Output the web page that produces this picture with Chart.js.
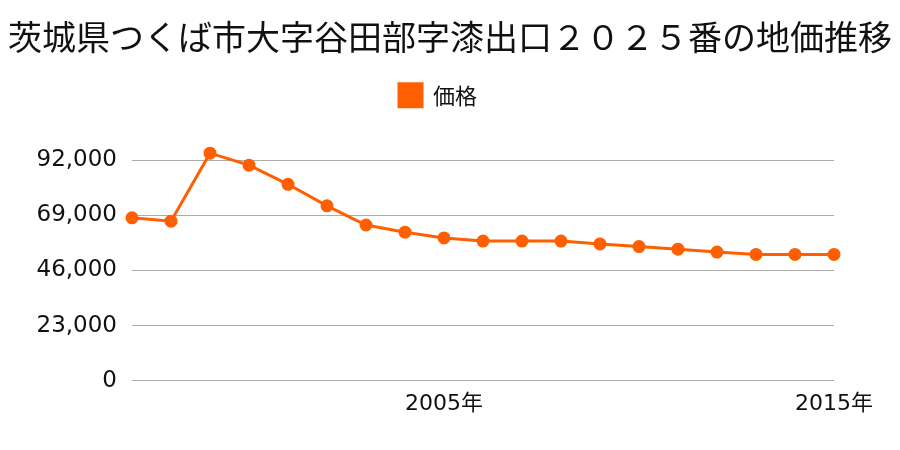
<!DOCTYPE html>
<html>
<head>
<meta charset="utf-8">
<script src="https://cdn.jsdelivr.net/npm/chart.js@4/dist/chart.umd.min.js"></script>
<style>
  html, body { margin: 0; padding: 0; background: #fff; }
</style>
</head>
<body>
<canvas id="chart" width="900" height="450"></canvas>
<script>
const years = ["1997", "1998", "1999", "2000", "2001", "2002", "2003", "2004", "2005", "2006",
               "2007", "2008", "2009", "2010", "2011", "2012", "2013", "2014", "2015"];
const prices = [68000, 66600, 95000, 90000, 82000, 73000, 65000, 62000, 59600, 58300,
                58300, 58300, 57100, 56000, 54900, 53700, 52700, 52700, 52700];
const yTicks = [0, 23000, 46000, 69000, 92000];
const shownYears = ["2005", "2015"];

const cjk = "'Noto Sans CJK JP', sans-serif";
const num = "'DejaVu Sans', 'Noto Sans CJK JP', sans-serif";

// legend sits a little left of the centre in the original
const legendShift = {
    id: "legendShift",
    afterLayout(chart) {
        chart.legend.left -= 12;
        chart.legend.right -= 12;
    }
};

new Chart(document.getElementById("chart"), {
    type: "line",
    data: {
        labels: years,
        datasets: [{
            label: "価格",
            data: prices,
            borderColor: "#ff5f00",
            backgroundColor: "#ff5f00",
            borderWidth: 3,
            pointRadius: 5,
            pointHoverRadius: 5,
            tension: 0
        }]
    },
    plugins: [legendShift],
    options: {
        responsive: false,
        animation: false,
        layout: { padding: { left: 0, right: 0, top: 0, bottom: 31 } },
        plugins: {
            title: {
                display: true,
                text: "茨城県つくば市大字谷田部字漆出口２０２５番の地価推移",
                color: "#111",
                font: { family: cjk, size: 34, weight: "normal" },
                padding: { top: 17, bottom: 16 }
            },
            legend: {
                labels: {
                    color: "#111",
                    font: { family: cjk, size: 22 },
                    boxWidth: 23,
                    boxHeight: 23
                }
            },
            tooltip: { enabled: false }
        },
        scales: {
            x: {
                offset: false,
                grid: { display: false },
                border: { display: false },
                ticks: {
                    color: "#111",
                    font: { family: num, size: 22 },
                    autoSkip: false,
                    maxRotation: 0,
                    padding: 2,
                    callback: function (v) {
                        const y = this.getLabelForValue(v);
                        return shownYears.includes(y) ? y + "年" : "";
                    }
                }
            },
            y: {
                min: 0,
                max: 110200,
                afterBuildTicks: function (scale) {
                    scale.ticks = yTicks.map(v => ({ value: v }));
                },
                afterFit: function (scale) { scale.width = 132; },
                grid: { color: "#aaaaaa", lineWidth: 1, drawTicks: false },
                border: { display: false },
                ticks: {
                    color: "#111",
                    font: { family: num, size: 23 },
                    padding: 15,
                    callback: v => v.toLocaleString("en-US")
                }
            },
            // empty axis on the right, only to keep space
            spacer: {
                type: "linear",
                position: "right",
                afterFit: function (scale) { scale.width = 66; },
                grid: { display: false },
                border: { display: false },
                ticks: { display: false }
            }
        }
    }
});
</script>
</body>
</html>
